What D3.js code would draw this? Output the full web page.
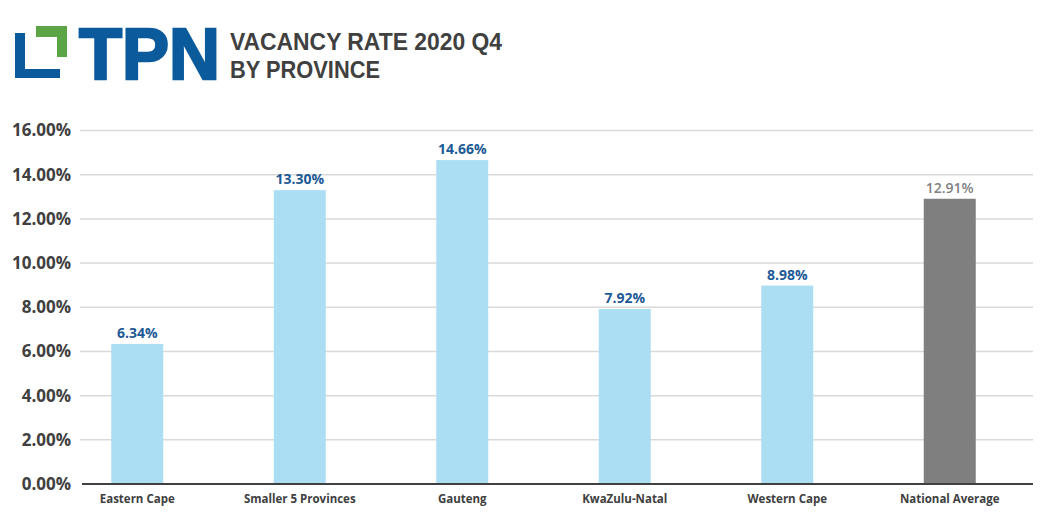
<!DOCTYPE html>
<html>
<head>
<meta charset="utf-8">
<script src="https://cdn.jsdelivr.net/npm/d3@7"></script>
<style>
  body { margin: 0; background: #fff; }
  text { font-family: "Open Sans", sans-serif; }
</style>
</head>
<body>
<div id="chart"></div>
<script>
const categories = ["Eastern Cape", "Smaller 5 Provinces", "Gauteng", "KwaZulu-Natal", "Western Cape", "National Average"];
const vacancyRates = [0.0634, 0.1330, 0.1466, 0.0792, 0.0898, 0.1291];
const yTicks = [0, 0.02, 0.04, 0.06, 0.08, 0.10, 0.12, 0.14, 0.16];
const titleLines = ["VACANCY RATE 2020 Q4", "BY PROVINCE"];

const width = 1054, height = 531;
const marginLeft = 80, marginRight = 21, plotTop = 130.5, plotBottom = 484;

const svg = d3.select("#chart").append("svg")
    .attr("width", width)
    .attr("height", height)
    .attr("viewBox", [0, 0, width, height]);

// logo
const logo = svg.append("g");
logo.append("path")
    .attr("fill", "#0b5b9c")
    .attr("d", "M15,33H25V69H60V78H15Z");
logo.append("path")
    .attr("fill", "#5ba546")
    .attr("d", "M36,26H67V57H57V37H36Z");
logo.append("text")
    .attr("x", 79)
    .attr("y", 79)
    .attr("fill", "#0b5b9c")
    .attr("stroke", "#0b5b9c")
    .attr("stroke-width", 2.5)
    .attr("stroke-linejoin", "miter")
    .attr("font-weight", 700)
    .attr("font-size", 72)
    .attr("textLength", 141)
    .attr("lengthAdjust", "spacingAndGlyphs")
    .style("font-family", "'Liberation Sans', Arial, sans-serif")
    .text("TPN");

// title, font with a compact line box so the two lines stay apart
svg.append("g")
    .selectAll("text")
    .data(titleLines)
    .join("text")
    .attr("x", 230)
    .attr("y", (d, i) => 50 + i * 27.5)
    .attr("fill", "#404040")
    .attr("font-weight", 700)
    .attr("font-size", 24.5)
    .attr("textLength", (d, i) => i === 0 ? 272 : 150)
    .attr("lengthAdjust", "spacingAndGlyphs")
    .style("font-family", "'Liberation Sans', Arial, sans-serif")
    .text(d => d);

const x = d3.scaleBand()
    .domain(categories)
    .range([56, 1031])
    .paddingInner(0.68)
    .paddingOuter(0.34);

const y = d3.scaleLinear()
    .domain([0, 0.16])
    .range([plotBottom, plotTop]);

// gridlines
svg.append("g")
    .attr("stroke", "#d9d9d9")
    .attr("stroke-width", 1.5)
    .selectAll("line")
    .data(yTicks.slice(1))
    .join("line")
    .attr("x1", marginLeft)
    .attr("x2", width - marginRight)
    .attr("y1", d => y(d))
    .attr("y2", d => y(d));

// y axis labels
svg.append("g")
    .attr("transform", `translate(${marginLeft},0)`)
    .call(d3.axisLeft(y).tickValues(yTicks).tickFormat(d3.format(".2%")).tickSize(0).tickPadding(9))
    .call(g => g.select(".domain").remove())
    .call(g => g.selectAll("text")
        .attr("fill", "#404040")
        .attr("font-family", "'Open Sans', sans-serif")
        .attr("font-weight", 700)
        .attr("font-size", 17));

// bars
svg.append("g")
    .selectAll("rect")
    .data(vacancyRates)
    .join("rect")
    .attr("x", (d, i) => x(categories[i]))
    .attr("y", d => y(d))
    .attr("width", x.bandwidth())
    .attr("height", d => y(0) - y(d))
    .attr("fill", (d, i) => i === categories.length - 1 ? "#7f7f7f" : "#abddf3");

// value labels
svg.append("g")
    .selectAll("text")
    .data(vacancyRates)
    .join("text")
    .attr("x", (d, i) => x(categories[i]) + x.bandwidth() / 2)
    .attr("y", d => y(d) - 6)
    .attr("text-anchor", "middle")
    .attr("font-size", 14)
    .attr("font-weight", (d, i) => i === categories.length - 1 ? 600 : 700)
    .attr("fill", (d, i) => i === categories.length - 1 ? "#7f7f7f" : "#1d5a96")
    .text(d => d3.format(".2%")(d));

// x axis
svg.append("g")
    .attr("transform", `translate(0,${plotBottom})`)
    .call(d3.axisBottom(x).tickSize(0).tickPadding(11))
    .call(g => g.select(".domain").remove())
    .call(g => g.selectAll("text")
        .attr("fill", "#404040")
        .attr("font-family", "'Open Sans', sans-serif")
        .attr("font-weight", 700)
        .attr("font-size", 11.5));

svg.append("line")
    .attr("x1", marginLeft + 2)
    .attr("x2", width - marginRight)
    .attr("y1", y(0))
    .attr("y2", y(0))
    .attr("stroke", "#404040")
    .attr("stroke-width", 2);
</script>
</body>
</html>
